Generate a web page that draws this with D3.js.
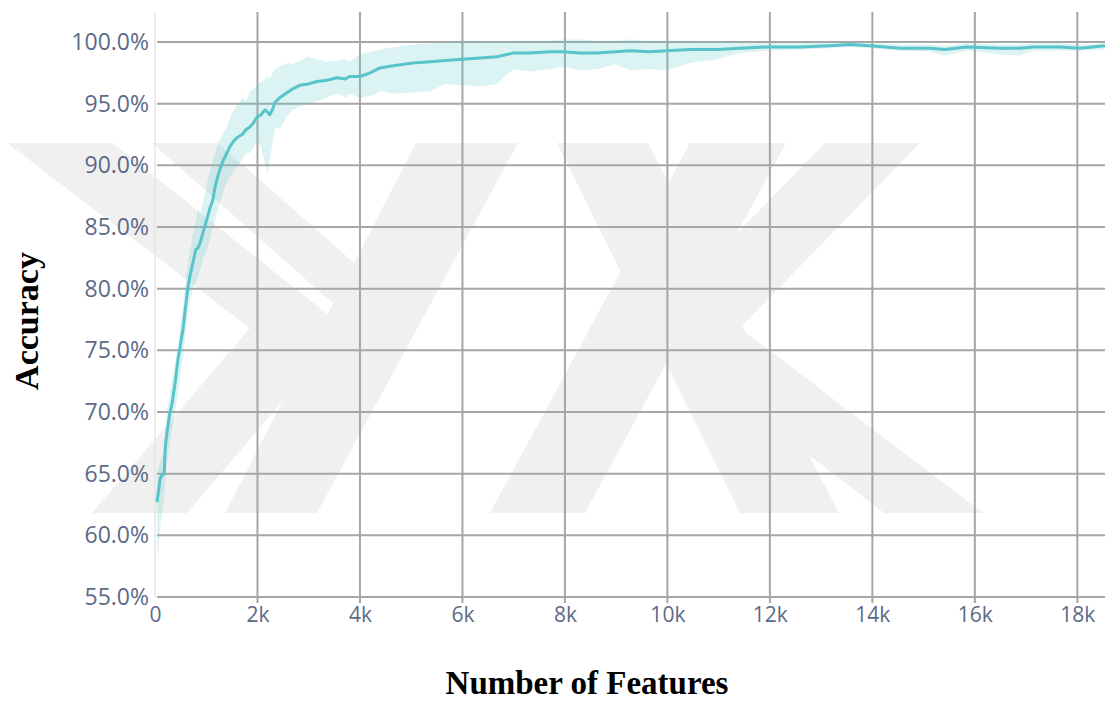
<!DOCTYPE html>
<html>
<head>
<meta charset="utf-8">
<script src="https://cdn.jsdelivr.net/npm/d3@7"></script>
<style>
  html, body { margin: 0; padding: 0; background: #fff; }
  svg { display: block; }
</style>
</head>
<body>
<svg id="chart" width="1105" height="704"></svg>
<script>
// ---------------- data ----------------
const features = [40,100,140,180,200,230,290,330,390,450,
  490,550,590,640,680,740,800,840,880,940,
  1010,1070,1130,1170,1230,1310,1390,1460,1540,1620,
  1700,1780,1850,1930,1990,2070,2150,2200,2240,2300,
  2340,2440,2580,2690,2830,2990,3160,3360,3550,3710,
  3800,4000,4200,4390,4680,5030,5370,5660,6010,6340,
  6670,6990,7320,7710,7960,8290,8620,8980,9270,9660,
  9990,10440,10970,11410,11940,12590,13170,13560,13950,14540,
  15120,15410,15840,16490,16880,17130,17660,18050,18540];

const meanAcc = [62.7,64.6,64.9,65.0,67.2,68.2,69.9,70.6,72.3,74.3,
  75.3,76.8,78.3,80.0,81.0,82.1,83.2,83.3,83.7,84.6,
  85.6,86.5,87.2,88.2,89.2,90.2,90.9,91.5,92.0,92.3,
  92.5,92.9,93.1,93.5,93.9,94.1,94.5,94.3,94.1,94.6,
  95.1,95.5,95.9,96.2,96.5,96.6,96.8,96.9,97.1,97.0,
  97.2,97.2,97.5,97.9,98.1,98.3,98.4,98.5,98.6,98.7,
  98.8,99.1,99.1,99.2,99.2,99.1,99.1,99.2,99.3,99.2,
  99.3,99.4,99.4,99.5,99.6,99.6,99.7,99.8,99.7,99.5,
  99.5,99.4,99.6,99.5,99.5,99.6,99.6,99.5,99.7];

const lowerAcc = [58.0,60.5,62.0,63.0,64.5,66.0,67.5,68.5,70.0,71.5,
  73.0,74.5,76.0,78.0,79.0,80.0,80.5,81.0,81.5,82.5,
  83.0,84.0,85.0,85.5,86.5,87.5,88.5,89.0,89.5,90.0,
  90.5,91.0,91.0,91.5,92.0,91.5,90.0,89.3,90.5,92.0,
  93.0,93.0,94.0,94.5,94.8,95.0,95.2,95.5,95.8,95.5,
  95.8,95.5,95.6,96.0,95.8,95.9,96.0,96.6,96.5,96.4,
  96.6,97.8,97.6,97.8,98.0,97.7,97.8,98.2,97.7,97.8,
  97.7,98.3,98.6,99.1,99.3,99.4,99.5,99.6,99.5,99.3,
  99.2,98.9,99.3,99.0,98.9,99.3,99.3,99.3,99.4];

const upperAcc = [65.0,66.0,66.5,67.0,68.5,70.0,71.5,72.5,74.0,75.5,
  77.0,78.8,80.5,82.0,83.0,84.5,85.5,86.5,86.0,87.0,
  88.5,89.5,90.5,91.0,91.8,92.5,93.0,93.8,94.5,95.0,
  95.5,95.2,96.0,96.2,96.5,96.8,97.0,97.2,97.0,97.5,
  97.8,98.0,98.3,98.2,98.5,98.8,98.6,98.4,98.5,98.6,
  98.4,99.0,99.2,99.4,99.6,99.8,99.9,100.0,100.1,100.1,
  100.0,100.1,100.1,100.1,100.2,100.2,100.1,100.1,100.2,100.1,
  100.1,100.1,100.0,100.0,99.9,99.9,100.0,100.0,99.9,99.8,
  99.8,99.7,99.9,99.8,99.8,99.9,99.9,99.8,99.9];

const yTicks = [55, 60, 65, 70, 75, 80, 85, 90, 95, 100];
const xTicks = [0, 2000, 4000, 6000, 8000, 10000, 12000, 14000, 16000, 18000];
const xTitle = "Number of Features";
const yTitle = "Accuracy";

// ---------------- layout ----------------
const svg = d3.select("#chart");
const W = 1105, H = 704;
const plot = { left: 155, right: 1105, top: 12, bottom: 597 };

const x = d3.scaleLinear().domain([0, 18540]).range([plot.left, plot.right]);
const y = d3.scaleLinear().domain([55, 100]).range([plot.bottom, 42]);

svg.append("rect").attr("width", W).attr("height", H).attr("fill", "#fff");

// ---------------- background watermark (decoration) ----------------
const wm = svg.append("g").attr("fill", "#f0f0f0");
const wmShapes = [
  [[7,143],[113,143],[345,328],[187,513],[92,513],[250,328]],
  [[152,143],[218,143],[360,268],[338,308]],
  [[225,513],[317,513],[518,143],[416,143]],
  [[490,513],[585,513],[786,143],[690,143]],
  [[557,143],[648,143],[839,513],[740,513]],
  [[825,143],[920,143],[740,328],[983,513],[884,513],[645,328]]
];
wmShapes.forEach(p => wm.append("path").attr("d", d3.line()(p) + "Z"));

// ---------------- grid ----------------
const grid = svg.append("g");
grid.append("line")
  .attr("x1", x(0)).attr("x2", x(0))
  .attr("y1", plot.top).attr("y2", plot.bottom)
  .attr("stroke", "#e6e6e6").attr("stroke-width", 1.5);

grid.selectAll(".hg").data(yTicks).enter().append("line")
  .attr("x1", plot.left + 2).attr("x2", plot.right)
  .attr("y1", d => y(d)).attr("y2", d => y(d))
  .attr("stroke", "#a6a6a6").attr("stroke-width", 2);

grid.selectAll(".vg").data(xTicks.filter(d => d > 0)).enter().append("line")
  .attr("x1", d => x(d)).attr("x2", d => x(d))
  .attr("y1", plot.top).attr("y2", plot.bottom + 6)
  .attr("stroke", "#a6a6a6").attr("stroke-width", 2);

// ---------------- axes labels ----------------
const yAxis = d3.axisLeft(y).tickValues(yTicks)
  .tickFormat(d => d3.format(".1f")(d) + "%").tickSize(0).tickPadding(4);
const gy = svg.append("g").attr("transform", `translate(${plot.left - 2},0)`).call(yAxis);
gy.select(".domain").remove();
gy.selectAll("text").attr("fill", "#5b6b86")
  .style("font-family", "'Open Sans', sans-serif").style("font-size", "23px");

const xAxis = d3.axisBottom(x).tickValues(xTicks)
  .tickFormat(d => d === 0 ? "0" : (d / 1000) + "k").tickSize(0).tickPadding(4);
const gx = svg.append("g").attr("transform", `translate(0,${plot.bottom + 6})`).call(xAxis);
gx.select(".domain").remove();
gx.selectAll("text").attr("fill", "#5b6b86")
  .style("font-family", "'Open Sans', sans-serif").style("font-size", "21px");

// ---------------- data marks ----------------
const rows = features.map((f, i) => ({ f, m: meanAcc[i], lo: lowerAcc[i], hi: upperAcc[i] }));

svg.append("path").datum(rows)
  .attr("d", d3.area().x(d => x(d.f)).y0(d => y(d.lo)).y1(d => y(d.hi)))
  .attr("fill", "rgba(95,200,206,0.22)");

svg.append("path").datum(rows)
  .attr("d", d3.line().x(d => x(d.f)).y(d => y(d.m)))
  .attr("fill", "none").attr("stroke", "#58c4ca").attr("stroke-width", 3)
  .attr("stroke-linejoin", "round");

// ---------------- titles ----------------
svg.append("text")
  .attr("x", 587).attr("y", 694).attr("text-anchor", "middle")
  .style("font-family", "'Liberation Serif', 'Times New Roman', serif")
  .style("font-weight", "bold").style("font-size", "33px").attr("fill", "#000")
  .text(xTitle);

svg.append("text")
  .attr("transform", "translate(38,321) rotate(-90)").attr("text-anchor", "middle")
  .style("font-family", "'Liberation Serif', 'Times New Roman', serif")
  .style("font-weight", "bold").style("font-size", "34px").attr("fill", "#000")
  .text(yTitle);
</script>
</body>
</html>
